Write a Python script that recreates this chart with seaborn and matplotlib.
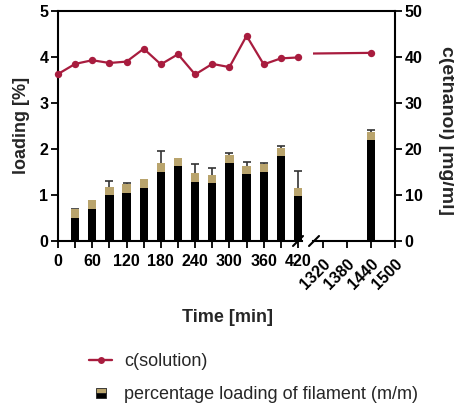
import numpy as np
import pandas as pd
import matplotlib
matplotlib.use("Agg")
import matplotlib.pyplot as plt
import seaborn as sns
from matplotlib.lines import Line2D

# ---------------- data ----------------
time_conc = [0, 30, 60, 90, 120, 150, 180, 210, 240, 270, 300, 330, 360, 390, 420, 1440]
conc = [36.3, 38.5, 39.3, 38.7, 39.0, 41.8, 38.4, 40.6, 36.2, 38.5, 37.8, 44.6, 38.4, 39.7, 39.9, 40.9]

time_load = [30, 60, 90, 120, 150, 180, 210, 240, 270, 300, 330, 360, 390, 420, 1440]
loading = [0.60, 0.79, 1.09, 1.14, 1.25, 1.60, 1.72, 1.38, 1.35, 1.78, 1.54, 1.59, 1.94, 1.07, 2.28]
loading_err = [0.10, 0.04, 0.22, 0.13, 0.05, 0.36, 0.04, 0.29, 0.24, 0.13, 0.17, 0.10, 0.13, 0.45, 0.13]

ticks_first = [0, 60, 120, 180, 240, 300, 360, 420]
ticks_second = [1320, 1380, 1440, 1500]
left_ticks = [0, 1, 2, 3, 4, 5]
right_ticks = [0, 10, 20, 30, 40, 50]

RED = "#a81c3e"
TAN = "#b9a46d"

df_c = pd.DataFrame({"t": time_conc, "c": conc})
df_l = pd.DataFrame({"t": time_load, "load": loading, "err": loading_err})

# ---------------- style ----------------
sns.set_theme(style="white")
plt.rcParams["font.family"] = ["Liberation Sans", "DejaVu Sans"]
plt.rcParams.update({
    "axes.edgecolor": "black",
    "axes.linewidth": 1.5,
    "xtick.color": "black",
    "ytick.color": "black",
    "xtick.major.width": 1.3,
    "ytick.major.width": 1.3,
    "xtick.minor.width": 1.3,
    "xtick.major.size": 5,
    "xtick.minor.size": 5,
    "ytick.major.size": 5,
    "xtick.direction": "out",
    "ytick.direction": "out",
})

W, H = 454, 412
fig = plt.figure(figsize=(W / 100, H / 100), dpi=100)

def fx(px):
    return px / W

def fy(py):
    return 1 - py / H

top_px, bot_px = 11, 241
bottom = fy(bot_px)
height = (bot_px - top_px) / H

# frame axes for the continuous top line
frame = fig.add_axes([fx(58), bottom, fx(395 - 58), height], zorder=-5)
frame.patch.set_visible(False)
for s in ["left", "right", "bottom"]:
    frame.spines[s].set_visible(False)
frame.set_xticks([])
frame.set_yticks([])

ax1 = fig.add_axes([fx(58), bottom, fx(302 - 58), height])
ax2 = fig.add_axes([fx(313), bottom, fx(395 - 313), height])
for a in (ax1, ax2):
    a.patch.set_visible(False)

first = df_l[df_l["t"] <= 420]
second = df_l[df_l["t"] > 420]

# bars
sns.barplot(data=first, x="t", y="load", native_scale=True, color="black",
            width=14.5 / 30, linewidth=0, errorbar=None, saturation=1, ax=ax1)
sns.barplot(data=second, x="t", y="load", native_scale=True, color="black",
            width=22, linewidth=0, errorbar=None, saturation=1, ax=ax2)

for a, d in ((ax1, first), (ax2, second)):
    a.errorbar(d["t"], d["load"], yerr=[np.zeros(len(d)), d["err"]], fmt="none",
               ecolor="#333333", elinewidth=1.2, capsize=2.8, capthick=1.2, zorder=3)
    sns.scatterplot(data=d, x="t", y="load", marker="s", color=TAN, s=36,
                    edgecolor="none", linewidth=0, zorder=4, ax=a, legend=False)

# right axes
ax1r = ax1.twinx()
ax2r = ax2.twinx()

c_first = df_c[df_c["t"] <= 420]
c_second = df_c.iloc[-2:]
sns.lineplot(data=c_first, x="t", y="c", color=RED, marker="o", markersize=5.3,
             markeredgewidth=0, linewidth=1.6, estimator=None, clip_on=False, ax=ax1r)
sns.lineplot(data=c_second, x="t", y="c", color=RED, marker="o", markersize=5.3,
             markeredgewidth=0, linewidth=1.6, estimator=None, ax=ax2r)

# limits
ax1.set_xlim(0, 427)
ax2.set_xlim(1295, 1500)
for a in (ax1, ax2):
    a.set_ylim(0, 5)
for a in (ax1r, ax2r):
    a.set_ylim(0, 50)
    a.set_xlabel("")
    a.set_ylabel("")
ax1r.set_xlim(ax1.get_xlim())
ax2r.set_xlim(ax2.get_xlim())

tick_font = dict(fontsize=11.5, fontweight="bold")

# ax1 spines / ticks
ax1.spines["right"].set_visible(False)
ax1.spines["top"].set_visible(False)
ax1.set_xticks(ticks_first)
ax1.set_xticklabels([str(t) for t in ticks_first], **tick_font)
ax1.set_xticks(time_load[:-1], minor=True)
ax1.set_yticks(left_ticks)
ax1.set_yticklabels([str(t) for t in left_ticks], **tick_font)
ax1.tick_params(axis="x", which="both", bottom=True, pad=4)
ax1.tick_params(axis="y", left=True, pad=2)
ax1.set_xlabel("")
ax1.set_ylabel("")

# ax2 spines / ticks
ax2.spines["left"].set_visible(False)
ax2.spines["right"].set_visible(False)
ax2.spines["top"].set_visible(False)
ax2.set_yticks([])
ax2.set_xticks(ticks_second)
ax2.set_xticklabels([str(t) for t in ticks_second], rotation=45, ha="right",
                    va="top", rotation_mode="anchor", **tick_font)
ax2.tick_params(axis="x", bottom=True, pad=6)
ax2.set_xlabel("")
ax2.set_ylabel("")

for s in ax1r.spines.values():
    s.set_visible(False)
ax1r.set_yticks([])
ax1r.tick_params(axis="x", bottom=False, top=False, labelbottom=False)
for s in ["left", "top", "bottom"]:
    ax2r.spines[s].set_visible(False)
ax2r.set_yticks(right_ticks)
ax2r.set_yticklabels([str(t) for t in right_ticks], **tick_font)
ax2r.tick_params(axis="y", right=True, pad=2)
ax2r.tick_params(axis="x", bottom=False, top=False, labelbottom=False)

# break marks
for x0 in (293, 309):
    fig.add_artist(Line2D([fx(x0), fx(x0 + 10)], [fy(246), fy(236)],
                          color="black", lw=1.5, transform=fig.transFigure))

# axis labels
fig.text(fx(227), fy(318), "Time [min]", ha="center", va="center",
         fontsize=13, fontweight="bold")
fig.text(fx(22), fy(125), "loading [%]", ha="center", va="center",
         rotation=90, fontsize=13, fontweight="bold")
fig.text(fx(447), fy(130), "c(ethanol) [mg/ml]", ha="center", va="center",
         rotation=270, fontsize=14, fontweight="bold")

# legend
handles = [
    Line2D([], [], color=RED, marker="o", markersize=5, markeredgewidth=0, linewidth=1.7),
    Line2D([], [], linestyle="none", marker="s", markersize=6.5, fillstyle="top",
           markerfacecolor=TAN, markerfacecoloralt="black", markeredgecolor="#222222",
           markeredgewidth=0.6),
]
labels = ["c(solution)", "percentage loading of filament (m/m)"]
fig.legend(handles, labels, loc="upper left", bbox_to_anchor=(fx(89), fy(353)),
           frameon=False, fontsize=13, handlelength=1.3, handletextpad=0.65,
           labelspacing=0.9, borderpad=0, borderaxespad=0)

fig.savefig("out.png", dpi=100)
